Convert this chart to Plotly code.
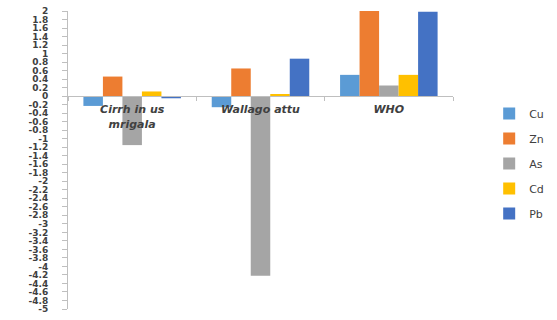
import plotly.graph_objects as go

# Metal concentrations per fish species, with the WHO permissible limits
categories = ["Cirrh in us<br>mrigala", "Wallago attu", "WHO"]
cu = [-0.23, -0.26, 0.5]
zn = [0.46, 0.65, 2.05]
as_ = [-1.15, -4.22, 0.25]
cd = [0.11, 0.05, 0.5]
pb = [-0.05, 0.88, 1.98]

series_names = ["Cu", "Zn", "As", "Cd", "Pb"]
series_values = [cu, zn, as_, cd, pb]
series_colors = ["#5B9BD5", "#ED7D31", "#A5A5A5", "#FFC000", "#4472C4"]

y_tick_values = [2, 1.8, 1.6, 1.4, 1.2, 1, 0.8, 0.6, 0.4, 0.2, 0,
                 -0.2, -0.4, -0.6, -0.8, -1, -1.2, -1.4, -1.6, -1.8, -2,
                 -2.2, -2.4, -2.6, -2.8, -3, -3.2, -3.4, -3.6, -3.8, -4,
                 -4.2, -4.4, -4.6, -4.8, -5]
y_tick_labels = [f"{v:g}" for v in y_tick_values]

fig = go.Figure()
for name, vals, color in zip(series_names, series_values, series_colors):
    fig.add_trace(go.Bar(
        name=name, x=categories, y=vals, marker_color=color,
        marker_line_width=0, legendgroup=name,
    ))

axis_grey = "#BFBFBF"
text_col = "#404040"

fig.update_layout(
    width=557, height=320,
    margin=dict(l=68, r=104, t=10, b=6),
    paper_bgcolor="white", plot_bgcolor="white",
    barmode="group", bargap=0.24, bargroupgap=0,
    showlegend=True,
    legend=dict(
        x=1.094, xanchor="left", y=0.705, yanchor="top",
        font=dict(family="DejaVu Sans", size=11, color=text_col),
        tracegroupgap=6, bgcolor="rgba(0,0,0,0)",
    ),
    xaxis=dict(
        type="category", anchor="free", position=5 / 7,
        showline=True, linecolor=axis_grey, linewidth=1,
        ticks="outside", tickson="boundaries", ticklen=4, tickcolor=axis_grey,
        showgrid=False, zeroline=False, ticklabelstandoff=3,
        tickfont=dict(family="DejaVu Sans", size=11, color=text_col,
                      style="italic", weight="bold"),
    ),
    yaxis=dict(
        range=[-5, 2], showline=True, linecolor=axis_grey, linewidth=1,
        ticks="outside", ticklen=5, tickcolor=axis_grey,
        tickmode="array", tickvals=y_tick_values, ticktext=y_tick_labels,
        showgrid=False, zeroline=False, ticklabelstandoff=12,
        tickfont=dict(family="DejaVu Sans", size=9, color=text_col,
                      weight="bold"),
    ),
)

fig.write_html("out.html")
